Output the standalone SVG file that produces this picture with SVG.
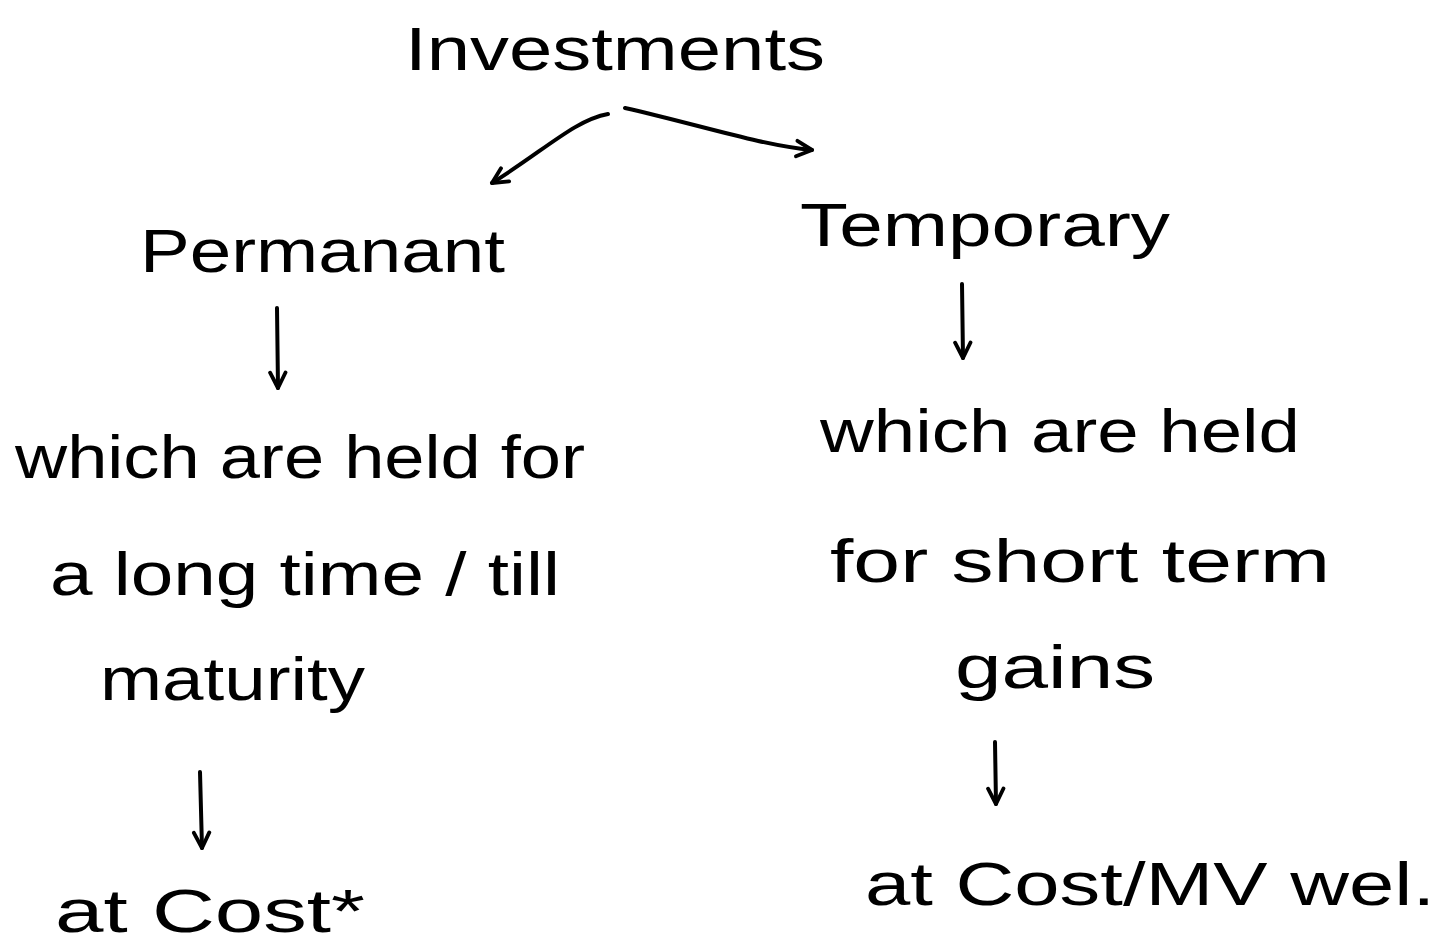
<svg xmlns="http://www.w3.org/2000/svg" width="1445" height="948" viewBox="0 0 1445 948">
<defs>
<style>
.t{font-family:"Liberation Sans",Arial,sans-serif;font-size:62px;fill:#000}
.c{fill:none;stroke:#000;stroke-width:4;stroke-linecap:round;stroke-linejoin:round}
</style>
<marker id="ah" viewBox="0 0 20 20" refX="18" refY="10" markerWidth="22" markerHeight="22" orient="auto" markerUnits="userSpaceOnUse">
<path d="M4,3 L18,10 L4,17" fill="none" stroke="#000" stroke-width="3.5" stroke-linecap="round" stroke-linejoin="round"/>
</marker>
</defs>
<rect width="1445" height="948" fill="#fff"/>
<g id="connectors">
<path class="c" d="M608,114 C575,120 545,150 492,183" marker-end="url(#ah)"/>
<path class="c" d="M625,108 C700,125 760,145 812,150" marker-end="url(#ah)"/>
<path class="c" d="M277,308 L278,388" marker-end="url(#ah)"/>
<path class="c" d="M962,284 L963,358" marker-end="url(#ah)"/>
<path class="c" d="M200,772 L202,848" marker-end="url(#ah)"/>
<path class="c" d="M995,742 L996,804" marker-end="url(#ah)"/>
</g>
<g id="investments"><text class="t" x="405" y="70" textLength="420" lengthAdjust="spacingAndGlyphs">Investments</text></g>
<g id="permanent"><text class="t" x="140" y="272" textLength="365" lengthAdjust="spacingAndGlyphs">Permanant</text></g>
<g id="temporary"><text class="t" x="800" y="246" textLength="370" lengthAdjust="spacingAndGlyphs">Temporary</text></g>
<g id="perm-desc">
<text class="t" x="15" y="478" textLength="570" lengthAdjust="spacingAndGlyphs">which are held for</text>
<text class="t" x="50" y="595" textLength="510" lengthAdjust="spacingAndGlyphs">a long time / till</text>
<text class="t" x="100" y="700" textLength="265" lengthAdjust="spacingAndGlyphs">maturity</text>
</g>
<g id="perm-val"><text class="t" x="55" y="932" textLength="310" lengthAdjust="spacingAndGlyphs">at Cost*</text></g>
<g id="temp-desc">
<text class="t" x="820" y="452" textLength="480" lengthAdjust="spacingAndGlyphs">which are held</text>
<text class="t" x="830" y="582" textLength="500" lengthAdjust="spacingAndGlyphs">for short term</text>
<text class="t" x="955" y="688" textLength="200" lengthAdjust="spacingAndGlyphs">gains</text>
</g>
<g id="temp-val"><text class="t" x="865" y="905" textLength="570" lengthAdjust="spacingAndGlyphs">at Cost/MV  wel.</text></g>
</svg>
